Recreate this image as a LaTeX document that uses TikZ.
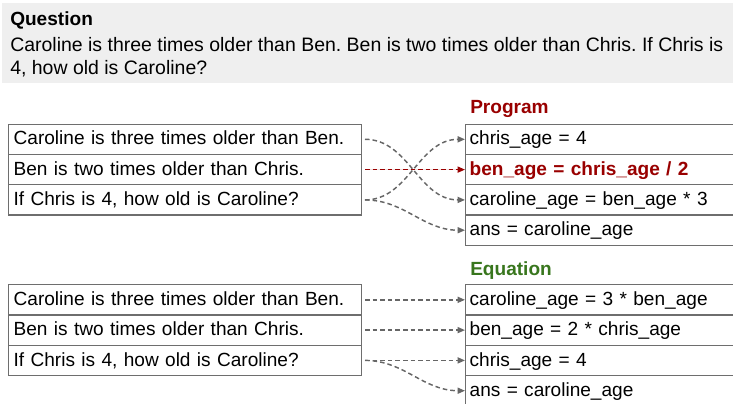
\documentclass[tikz,border=0pt]{standalone}
\usepackage{fontspec}
\setmainfont{Liberation Sans}
\usetikzlibrary{arrows.meta}
\frenchspacing
\definecolor{qbg}{HTML}{EFEFEF}
\definecolor{boxline}{HTML}{6E6E6E}
\definecolor{arrgrey}{HTML}{666666}
\definecolor{progred}{HTML}{990000}
\definecolor{eqgreen}{HTML}{38761D}
\tikzset{
  txt/.style={font=\fontsize{14.3pt}{17.25pt}\selectfont},
  qtxt/.style={font=\fontsize{14.6pt}{17.25pt}\selectfont, anchor=base west, inner sep=0pt},
  leftbox/.style={txt, draw=boxline, line width=1pt, anchor=north west,
    minimum height=30.3*0.75pt, inner xsep=5*0.75pt, inner ysep=0pt,
    text width=(353-10)*0.75pt, align=left, text height=10.5pt, text depth=2pt},
  rightbox/.style={leftbox, text width=(290-8)*0.75pt, inner xsep=4*0.75pt},
  arr/.style={draw=arrgrey, line width=1.1pt, dash pattern=on 3.4pt off 2.3pt,
    -{Triangle[length=5.5pt,width=4.5pt]}, shorten <=2pt},
  redarr/.style={arr, draw=progred, fill=progred},
  heading/.style={txt, font=\fontsize{14.3pt}{17.25pt}\selectfont\bfseries, anchor=base west, inner sep=0pt}
}
\begin{document}
\begin{tikzpicture}[x=0.75pt,y=-0.75pt]
\useasboundingbox (0,0) rectangle (733,404);
\begin{scope}
\clip (0,0) rectangle (733,404);
% question panel
\fill[qbg] (2,3) rectangle (733,83);
\node[heading] (qh) at (10,25) {Question};
\node[qtxt] (q1) at (10,51) {Caroline is three times older than Ben. Ben is two times older than Chris. If Chris is};
\node[qtxt] (q2) at (10,74) {4, how old is Caroline?};
% program section
\node[heading, text=progred] (ph) at (470,113) {Program};
\node[leftbox] (a1) at (8,123.5) {Caroline is three times older than Ben.};
\node[leftbox] (a2) at (8,153.8) {Ben is two times older than Chris.};
\node[leftbox] (a3) at (8,184.1) {If Chris is 4, how old is Caroline?};
\node[rightbox] (p1) at (465,123.5) {chris\_age = 4};
\node[rightbox, text=progred, font=\fontsize{14.3pt}{17.25pt}\selectfont\bfseries] (p2) at (465,153.8) {ben\_age = chris\_age / 2};
\node[rightbox] (p3) at (465,184.1) {caroline\_age = ben\_age * 3};
\node[rightbox] (p4) at (465,214.4) {ans = caroline\_age};
\draw[arr] (a1.east) to[out=0,in=180] (p3.west);
\draw[arr] (a3.east) to[out=0,in=180] (p1.west);
\draw[arr] (a3.east) to[out=0,in=180] (p4.west);
\draw[redarr] (a2.east) -- (p2.west);
% equation section
\node[heading, text=eqgreen] (eh) at (470,275) {Equation};
\node[leftbox] (b1) at (8,284) {Caroline is three times older than Ben.};
\node[leftbox] (b2) at (8,314.3) {Ben is two times older than Chris.};
\node[leftbox] (b3) at (8,344.6) {If Chris is 4, how old is Caroline?};
\node[rightbox] (e1) at (465,284) {caroline\_age = 3 * ben\_age};
\node[rightbox] (e2) at (465,314.3) {ben\_age = 2 * chris\_age};
\node[rightbox] (e3) at (465,344.6) {chris\_age = 4};
\node[rightbox] (e4) at (465,374.9) {ans = caroline\_age};
\draw[arr] (b1.east) -- (e1.west);
\draw[arr] (b2.east) -- (e2.west);
\draw[arr] (b3.east) -- (e3.west);
\draw[arr] (b3.east) to[out=0,in=180] (e4.west);
\end{scope}
\end{tikzpicture}
\end{document}
